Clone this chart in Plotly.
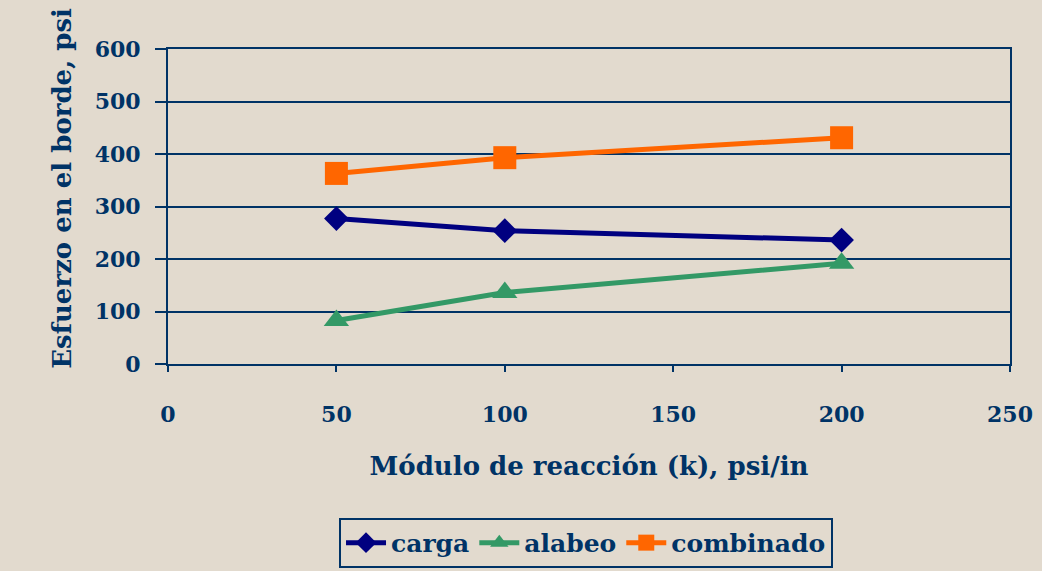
import plotly.graph_objects as go

# Módulo de reacción k (psi/in)
k_values = [50, 100, 200]

# Esfuerzo en el borde (psi)
carga = [277, 254, 236]
alabeo = [83, 136, 192]
combinado = [363, 393, 431]

x_ticks = [0, 50, 100, 150, 200, 250]
y_ticks = [0, 100, 200, 300, 400, 500, 600]

INK = "#003366"
BG = "#E2DACE"
FONT = "DejaVu Serif"

fig = go.Figure()

fig.add_trace(go.Scatter(
    x=k_values, y=carga, name="carga", mode="lines+markers",
    line=dict(color="#000080", width=5),
    marker=dict(symbol="diamond", size=19, color="#000080"),
))
fig.add_trace(go.Scatter(
    x=k_values, y=alabeo, name="alabeo", mode="lines+markers",
    line=dict(color="#339966", width=5),
    marker=dict(symbol="triangle-up", size=22, color="#339966"),
))
fig.add_trace(go.Scatter(
    x=k_values, y=combinado, name="combinado", mode="lines+markers",
    line=dict(color="#FF6600", width=5),
    marker=dict(symbol="square", size=23, color="#FF6600"),
))

fig.update_layout(
    width=1042, height=571,
    margin=dict(l=168, r=32, t=49, b=207, autoexpand=False),
    paper_bgcolor=BG, plot_bgcolor=BG,
    font=dict(family=FONT, color=INK, size=22),
    showlegend=True,
    legend=dict(
        orientation="h",
        xref="container", x=0.5624, xanchor="center",
        yref="container", y=0.093, yanchor="top",
        bordercolor=INK, borderwidth=2, bgcolor="rgba(0,0,0,0)",
        font=dict(family=FONT, size=25, color=INK, weight="bold"),
        itemwidth=40,
    ),
    xaxis=dict(
        range=[0, 250], tickvals=x_ticks, ticktext=[str(v) for v in x_ticks],
        showgrid=False, zeroline=False, automargin=False,
        showline=True, linecolor=INK, linewidth=2, mirror=True,
        ticks="outside", ticklen=6, tickwidth=2, tickcolor=INK,
        tickfont=dict(family=FONT, size=22, color=INK, weight="bold"),
        ticklabelstandoff=24,
        title=dict(text="Módulo de reacción (k), psi/in", standoff=30,
                   font=dict(family=FONT, size=26, color=INK, weight="bold")),
    ),
    yaxis=dict(
        range=[0, 600], tickvals=y_ticks, ticktext=[str(v) for v in y_ticks],
        showgrid=True, gridcolor=INK, gridwidth=2, zeroline=False, automargin=False,
        showline=True, linecolor=INK, linewidth=2, mirror=True,
        ticks="outside", ticklen=11, tickwidth=2, tickcolor=INK,
        tickfont=dict(family=FONT, size=22, color=INK, weight="bold"),
        ticklabelstandoff=10,
    ),
)

fig.add_annotation(
    text="Esfuerzo en el borde, psi", textangle=-90,
    xref="paper", yref="paper", x=-0.126, y=-0.02,
    xanchor="center", yanchor="bottom", showarrow=False,
    font=dict(family=FONT, size=26, color=INK, weight="bold"),
)

fig.write_html("out.html")
